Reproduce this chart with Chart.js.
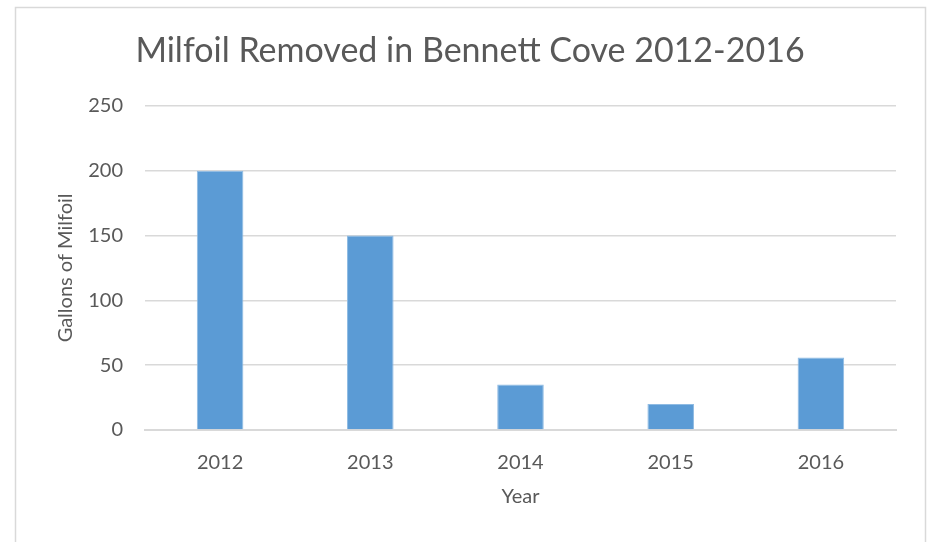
<!DOCTYPE html>
<html>
<head>
<meta charset="utf-8">
<script src="https://cdn.jsdelivr.net/npm/chart.js@4"></script>
<style>
  html, body { margin: 0; padding: 0; background: #fff; overflow: hidden; }
  #wrap { width: 932px; height: 542px; }
</style>
</head>
<body>
<div id="wrap"><canvas id="chart"></canvas></div>
<script>
// Data
const years = ['2012', '2013', '2014', '2015', '2016'];
const gallons = [200, 150, 35, 20, 56];
const yTicks = [0, 50, 100, 150, 200, 250];

const textColor = '#595959',
    gridColor = '#d9d9d9',
    barColor = '#5b9bd5';

// Light grey frame round the chart, like the spreadsheet chart area
const framePlugin = {
    id: 'frame',
    beforeDraw: function(chart){
        let ctx = chart.ctx;
        ctx.save();
        ctx.fillStyle = '#fff';
        ctx.fillRect(0, 0, chart.width, chart.height);
        ctx.strokeStyle = gridColor;
        ctx.lineWidth = 1.5;
        ctx.strokeRect(15.5, 7.5, 910, 600);
        ctx.restore();
    }
};

let ctx = document.getElementById('chart').getContext('2d');
let chart = new Chart(ctx, {
    type: 'bar',
    data: {
        labels: years,
        datasets: [{
            data: gallons,
            backgroundColor: barColor,
            borderColor: '#8fbbe3',
            borderWidth: 1,
            barPercentage: 0.31,
            categoryPercentage: 1
        }]
    },
    options: {
        responsive: true,
        maintainAspectRatio: false,
        animation: false,
        layout: {
            padding: {left: 15, right: 7, top: 0, bottom: 0}
        },
        plugins: {
            legend: {display: false},
            tooltip: {enabled: false},
            title: {
                display: true,
                text: 'Milfoil Removed in Bennett Cove 2012-2016',
                color: textColor,
                font: {family: 'Lato', size: 34, weight: 'normal'},
                padding: {top: 31, bottom: 34}
            }
        },
        scales: {
            x: {
                grid: {display: false, drawTicks: false},
                border: {color: gridColor, width: 2},
                ticks: {color: textColor, font: {family: 'Lato', size: 20}, padding: 21},
                title: {
                    display: true,
                    text: 'Year',
                    color: textColor,
                    font: {family: 'Lato', size: 20},
                    padding: {top: 0, bottom: 33}
                },
                afterFit: function(scale){ scale.height = 112; }
            },
            y: {
                min: 0,
                max: 250,
                afterBuildTicks: function(scale){
                    scale.ticks = yTicks.map(v => ({value: v}));
                },
                grid: {color: gridColor, lineWidth: 1.5, drawTicks: false},
                border: {display: false},
                ticks: {color: textColor, font: {family: 'Lato', size: 20}, padding: 22},
                title: {
                    display: true,
                    text: 'Gallons of Milfoil',
                    color: textColor,
                    font: {family: 'Lato', size: 20},
                    padding: {top: 39, bottom: 0}
                },
                afterFit: function(scale){ scale.width = 130; }
            },
            // empty right-hand axis, only keeps the plot clear of the frame
            yRight: {
                position: 'right',
                grid: {display: false, drawTicks: false},
                border: {display: false},
                ticks: {display: false},
                afterFit: function(scale){ scale.width = 29; }
            }
        }
    },
    plugins: [framePlugin]
});
</script>
</body>
</html>
